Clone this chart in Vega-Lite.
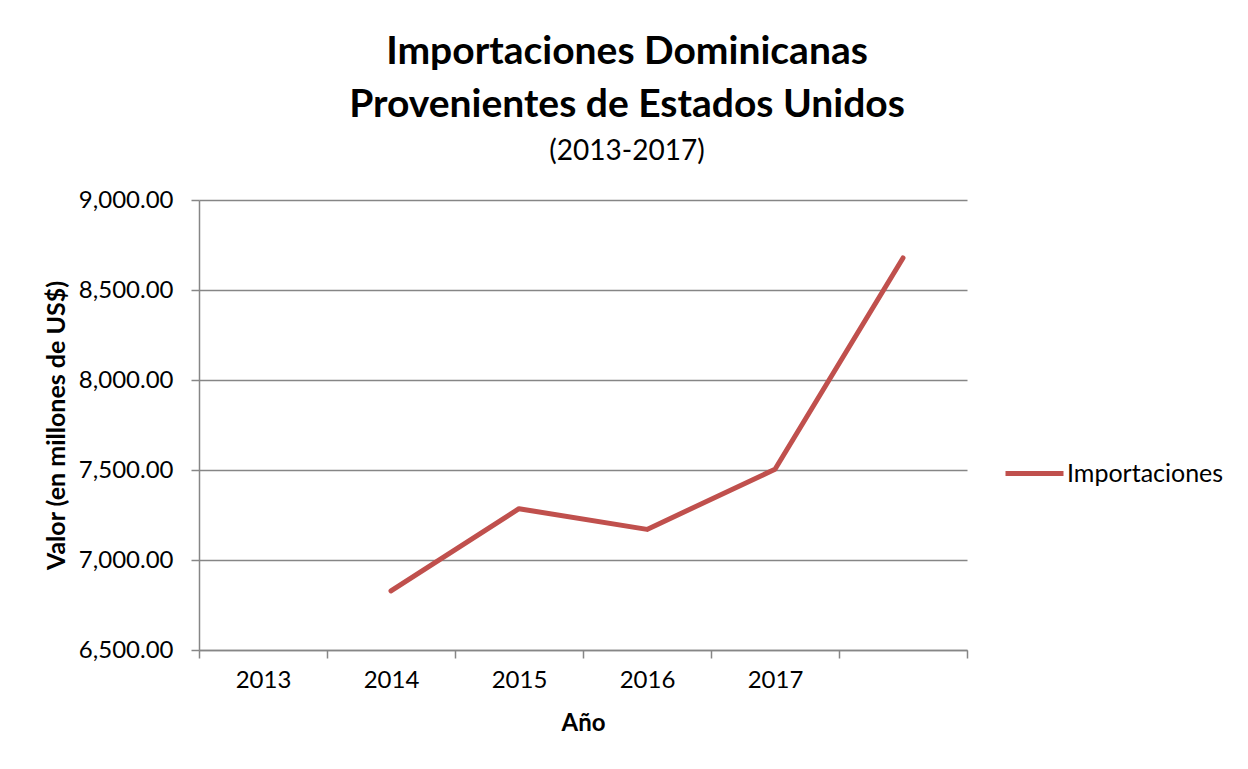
{
  "$schema": "https://vega.github.io/schema/vega-lite/v6.json",
  "width": 768,
  "height": 450,
  "autosize": "none",
  "padding": {"left": 199, "top": 200, "right": 281, "bottom": 119},
  "background": "white",
  "config": {
    "font": "Lato",
    "view": {"stroke": null},
    "axis": {"labelFont": "Lato", "titleFont": "Lato", "labelColor": "#000000", "titleColor": "#000000"}
  },
  "title": {
    "text": ["Importaciones Dominicanas", "Provenientes de Estados Unidos"],
    "subtitle": "(2013-2017)",
    "font": "Lato",
    "fontSize": 39,
    "fontWeight": "bold",
    "lineHeight": 53,
    "subtitleFont": "Lato",
    "subtitleFontSize": 28,
    "subtitleColor": "#000000",
    "subtitlePadding": 13,
    "color": "#000000",
    "anchor": "middle",
    "frame": "group",
    "dx": 44,
    "offset": 22
  },
  "data": {
    "values": [
      {"cat": "2014", "valor": 6828, "serie": "Importaciones"},
      {"cat": "2015", "valor": 7285, "serie": "Importaciones"},
      {"cat": "2016", "valor": 7170, "serie": "Importaciones"},
      {"cat": "2017", "valor": 7504, "serie": "Importaciones"},
      {"cat": " ", "valor": 8678, "serie": "Importaciones"}
    ]
  },
  "mark": {"type": "line", "strokeWidth": 5, "strokeCap": "round", "strokeJoin": "round"},
  "encoding": {
    "x": {
      "field": "cat",
      "type": "ordinal",
      "scale": {"domain": ["2013", "2014", "2015", "2016", "2017", " "], "paddingInner": 0, "paddingOuter": 0},
      "axis": {
        "title": "Año",
        "titleFontSize": 24,
        "titleFontWeight": "bold",
        "titleBaseline": "alphabetic",
        "titleY": 80,
        "labelAngle": 0,
        "labelFontSize": 24,
        "labelPadding": 10,
        "tickBand": "extent",
        "tickSize": 8,
        "tickColor": "#868686",
        "tickWidth": 1.5,
        "domainColor": "#868686",
        "domainWidth": 1.5,
        "grid": false
      }
    },
    "y": {
      "field": "valor",
      "type": "quantitative",
      "scale": {"domain": [6500, 9000], "nice": false, "zero": false},
      "axis": {
        "title": "Valor (en millones de US$)",
        "titleFontSize": 25,
        "titleFontWeight": "bold",
        "titleX": -143,
        "titleY": 225,
        "titleAlign": "center",
        "titleBaseline": "middle",
        "values": [6500, 7000, 7500, 8000, 8500, 9000],
        "format": ",.2f",
        "labelFontSize": 24,
        "labelPadding": 18,
        "tickSize": 8,
        "tickColor": "#868686",
        "tickWidth": 1.5,
        "domainColor": "#868686",
        "domainWidth": 1.5,
        "grid": true,
        "gridColor": "#868686",
        "gridWidth": 1.5
      }
    },
    "color": {
      "field": "serie",
      "type": "nominal",
      "scale": {"range": ["#C0504D"]},
      "legend": {
        "title": null,
        "orient": "none",
        "legendX": 804,
        "legendY": 242,
        "symbolType": "stroke",
        "symbolSize": 3364,
        "symbolStrokeWidth": 5,
        "labelFontSize": 25,
        "labelFont": "Lato",
        "labelColor": "#000000",
        "labelOffset": 1,
        "padding": 0
      }
    }
  }
}
